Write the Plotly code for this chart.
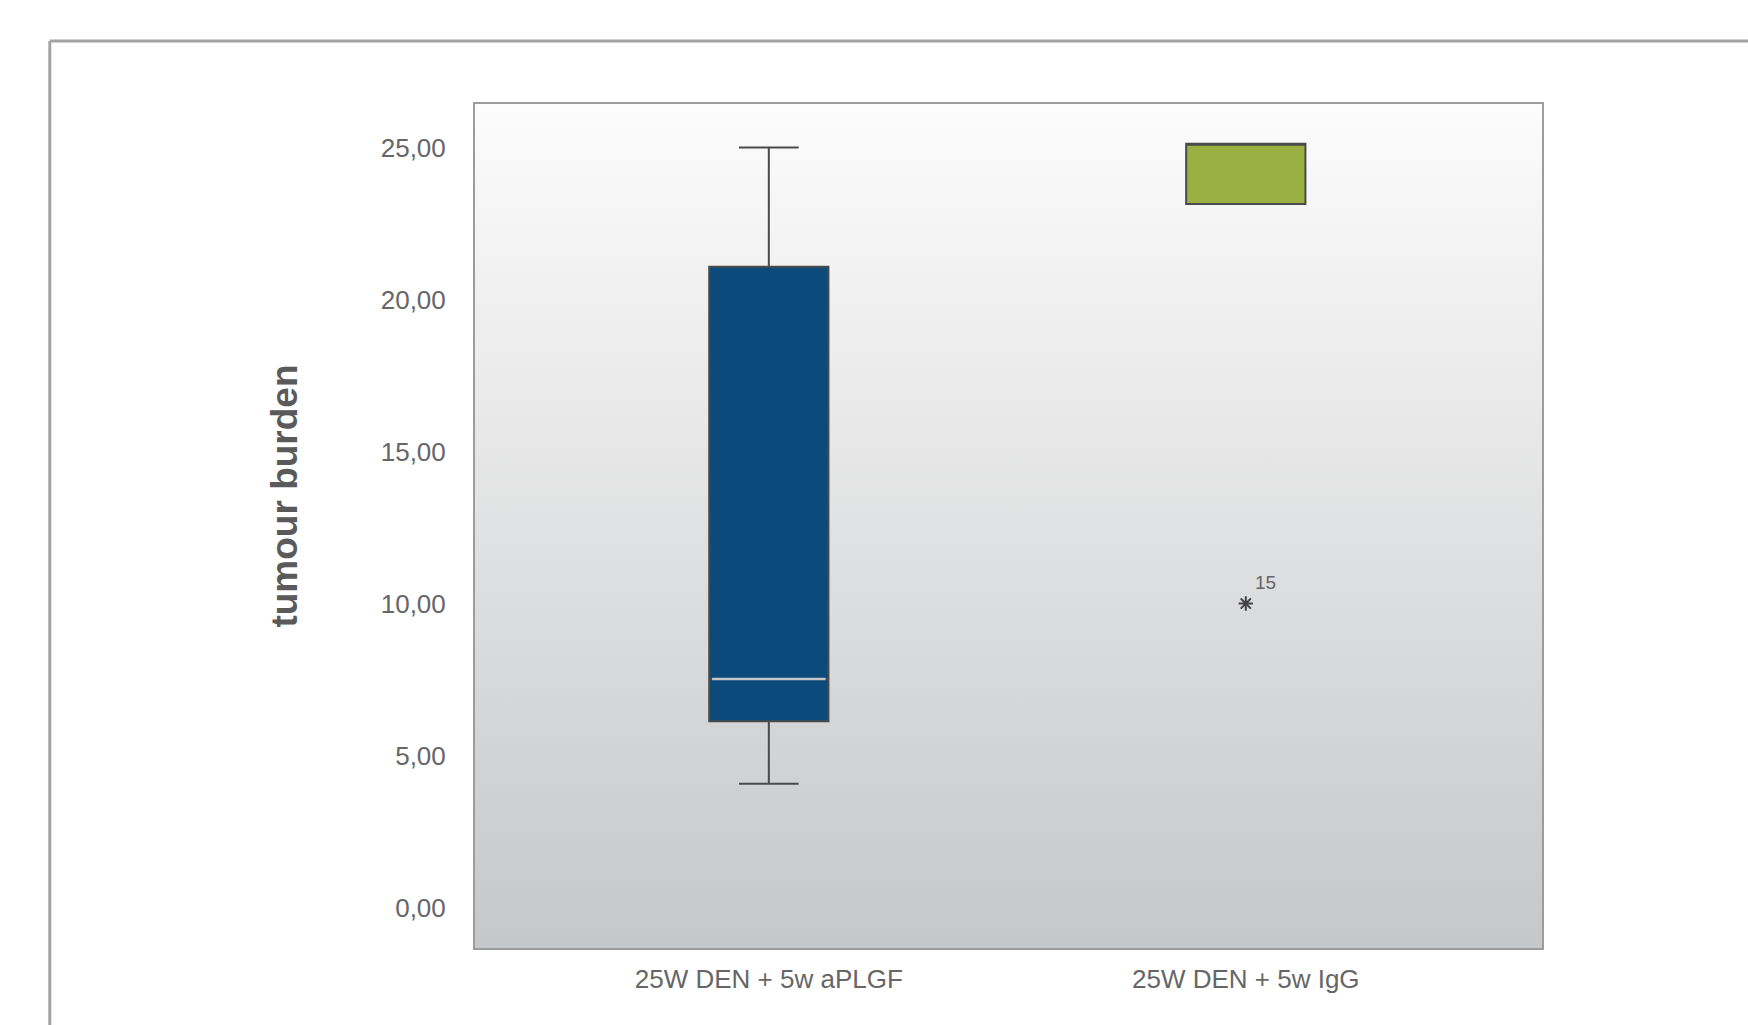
import base64
import plotly.graph_objects as go

# Group labels and box-plot summary statistics
categories = ["25W DEN + 5w aPLGF", "25W DEN + 5w IgG"]
positions = [0, 1]
q1 = [6.13, 23.14]
median = [7.52, 25.12]
q3 = [21.08, 25.12]
lower_fence = [4.07, 23.14]
upper_fence = [25.00, 25.12]
box_colors = ["#0d4a7c", "#9caf42"]

# Outlier (case number shown next to the marker)
outlier_group = [1]
outlier_value = [10.0]
outlier_label = ["15"]

y_tick_vals = [0, 5, 10, 15, 20, 25]
y_tick_text = ["0,00", "5,00", "10,00", "15,00", "20,00", "25,00"]

BOX_W = 0.25
LINE = "#4a4a4a"
FONT = "Liberation Sans, Arial, sans-serif"

fig = go.Figure()

for i in range(len(categories)):
    fig.add_trace(go.Box(
        x=[positions[i]],
        q1=[q1[i]], median=[median[i]], q3=[q3[i]],
        lowerfence=[lower_fence[i]], upperfence=[upper_fence[i]],
        width=BOX_W,
        whiskerwidth=0.5,
        fillcolor=box_colors[i],
        line=dict(color=LINE, width=2),
        boxpoints=False,
        showlegend=False,
        hoverinfo="skip",
    ))

# Light median line drawn over the first box
half = BOX_W / 2 - 0.006
fig.add_trace(go.Scatter(
    x=[positions[0] - half, positions[0] + half],
    y=[median[0], median[0]],
    mode="lines",
    line=dict(color="#c3c7cc", width=2.5),
    showlegend=False, hoverinfo="skip",
))

# Extreme value marker
fig.add_trace(go.Scatter(
    x=[positions[g] for g in outlier_group],
    y=outlier_value,
    mode="markers",
    marker=dict(symbol="asterisk-open", size=12, color="#444444",
                line=dict(color="#444444", width=2)),
    showlegend=False, hoverinfo="skip",
))
for g, v, lab in zip(outlier_group, outlier_value, outlier_label):
    fig.add_annotation(x=positions[g], y=v, text=lab, showarrow=False,
                       xshift=20, yshift=21,
                       font=dict(family=FONT, size=19, color="#666666"))

# Vertical grey gradient behind the plotting area
svg = ('<svg xmlns="http://www.w3.org/2000/svg" width="100" height="100" preserveAspectRatio="none">'
       '<defs><linearGradient id="g" x1="0" y1="0" x2="0" y2="1">'
       '<stop offset="0" stop-color="#fcfcfc"/><stop offset="1" stop-color="#c6c7c9"/>'
       '</linearGradient></defs><rect width="100" height="100" fill="url(#g)"/></svg>')
src = "data:image/svg+xml;base64," + base64.b64encode(svg.encode()).decode()
fig.add_layout_image(dict(source=src, xref="paper", yref="paper", x=0, y=1,
                          sizex=1, sizey=1, sizing="stretch", layer="below",
                          xanchor="left", yanchor="top"))

# Outer frame (open to the right and bottom)
fig.add_shape(type="line", xref="paper", yref="paper",
              x0=-0.3985, x1=1.3, y0=1.0746, y1=1.0746,
              line=dict(color="#a3a3a3", width=3))
fig.add_shape(type="line", xref="paper", yref="paper",
              x0=-0.3985, x1=-0.3985, y0=1.0746, y1=-0.2,
              line=dict(color="#a3a3a3", width=3))

# Y-axis title
fig.add_annotation(xref="paper", yref="paper", x=-0.1996, y=0.5355,
                   text="<b>tumour burden</b>", textangle=-90, showarrow=False,
                   font=dict(family=FONT, size=37, color="#5a5a5a"))

fig.update_layout(
    width=1748, height=1025,
    margin=dict(l=475, r=206, t=104, b=77),
    paper_bgcolor="white",
    plot_bgcolor="rgba(0,0,0,0)",
    font=dict(family=FONT, color="#666666"),
    xaxis=dict(
        range=[-0.616, 1.621], tickvals=positions, ticktext=categories,
        showgrid=False, zeroline=False, showline=True, mirror=True,
        linecolor="#9c9c9c", linewidth=2, ticks="",
        tickfont=dict(size=26, color="#666666"), ticklabelstandoff=7,
    ),
    yaxis=dict(
        range=[-1.33, 26.43], tickvals=y_tick_vals, ticktext=y_tick_text,
        showgrid=False, zeroline=False, showline=True, mirror=True,
        linecolor="#9c9c9c", linewidth=2, ticks="",
        tickfont=dict(size=26, color="#666666"), ticklabelstandoff=22,
    ),
    hovermode=False,
)

fig.write_html("out.html", config={"displayModeBar": False})
